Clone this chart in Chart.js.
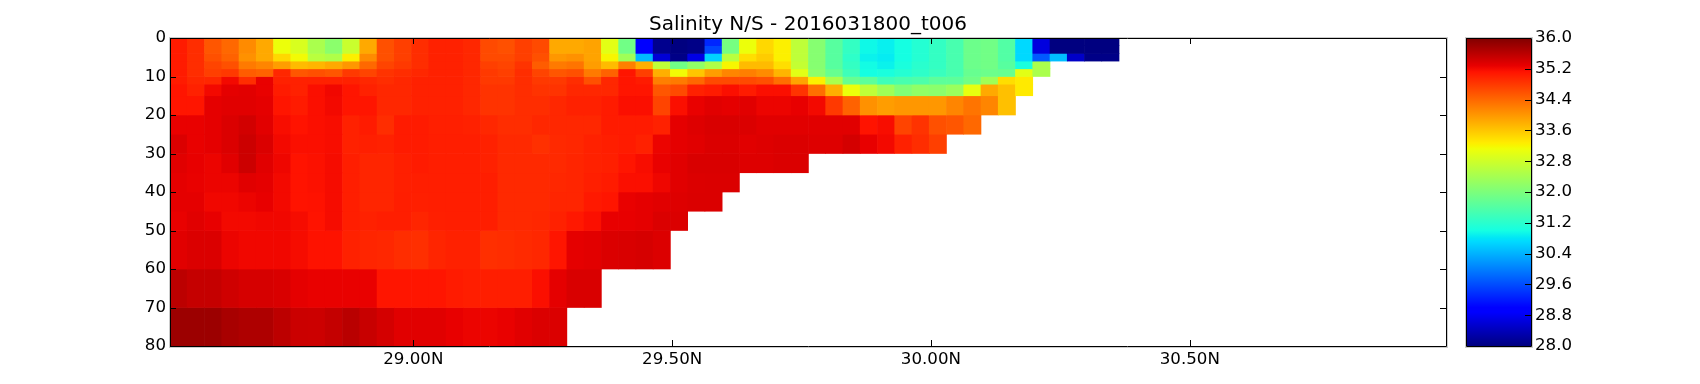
<!DOCTYPE html>
<html>
<head>
<meta charset="utf-8">
<script src="https://cdn.jsdelivr.net/npm/chart.js@4"></script>
<style>
    html, body { margin: 0; padding: 0; background: #fff; }
    #page { position: relative; width: 1700px; height: 384px; overflow: hidden; }
    canvas { position: absolute; top: 0; }
    #chart { left: 0; }
    #colorbar { left: 1460px; }
</style>
</head>
<body>
<div id="page">
    <canvas id="chart" width="1700" height="384"></canvas>
    <canvas id="colorbar" width="240" height="384"></canvas>
</div>
<script>
const titleText = 'Salinity N/S - 2016031800_t006';
const lonStart = 28.53;
const lonEnd = 30.995;
const lonStep = 1 / 30;
const lonTicks = [29, 29.5, 30, 30.5];
const depthTicks = [0, 10, 20, 30, 40, 50, 60, 70, 80];
const colorTicks = [28, 28.8, 29.6, 30.4, 31.2, 32, 32.8, 33.6, 34.4, 35.2, 36];
const depthEdges = [0, 2, 4, 6, 8, 10, 12, 15, 20, 25, 30, 35, 40, 45, 50, 60, 70, 80];

// one list per depth layer, west to east, ends where the sea bed starts
const sal0 = [35.05, 34.9, 34.55, 34.4, 34.1, 33.85, 33.1, 32.9, 32.45, 32.15, 32.75, 33.85, 34.6, 34.75, 34.9, 35.0, 35.0, 34.95, 34.65, 34.6, 34.75, 34.65, 33.85, 33.85, 33.9, 33.0, 31.9, 29.0, 28.1, 28.0, 28.05, 29.3, 31.95, 33.1, 33.45, 33.25, 32.65, 32.1, 31.65, 31.3, 30.95, 30.88, 31.0, 31.15, 31.3, 31.5, 31.85, 31.9, 31.6, 30.7, 28.65, 28.0, 28.0, 28.0, 28.0];
const sal2 = [35.05, 34.9, 34.55, 34.4, 34.1, 33.85, 33.1, 32.9, 32.45, 32.15, 32.75, 33.85, 34.6, 34.75, 34.9, 35.0, 35.0, 34.95, 34.65, 34.6, 34.75, 34.65, 33.85, 33.85, 33.9, 33.0, 31.9, 29.0, 28.1, 28.0, 28.05, 29.55, 31.95, 33.1, 33.45, 33.25, 32.65, 32.1, 31.65, 31.3, 30.95, 30.88, 31.0, 31.15, 31.3, 31.5, 31.85, 31.9, 31.6, 30.7, 28.65, 28.0, 28.0, 28.0, 28.0];
const sal4 = [35.05, 34.9, 34.6, 34.45, 34.05, 33.85, 33.45, 33.15, 32.6, 32.5, 33.25, 34.1, 34.6, 34.75, 34.9, 35.0, 35.0, 34.95, 34.65, 34.65, 34.75, 34.6, 34.0, 34.05, 33.9, 33.2, 32.35, 30.45, 28.6, 28.05, 28.7, 30.65, 32.6, 33.4, 33.55, 33.25, 32.65, 32.1, 31.65, 31.25, 30.9, 30.85, 31.0, 31.15, 31.3, 31.5, 31.85, 31.9, 31.6, 30.7, 29.7, 30.5, 28.5, 28.05, 28.05];
const sal6 = [35.05, 34.9, 34.7, 34.6, 34.25, 34.15, 33.95, 33.7, 33.75, 33.85, 34.0, 34.4, 34.7, 34.8, 34.9, 35.0, 35.0, 34.95, 34.75, 34.7, 34.85, 34.5, 34.25, 34.3, 33.95, 33.7, 34.2, 33.8, 32.65, 31.9, 32.2, 32.5, 33.2, 33.7, 33.7, 33.4, 32.7, 32.1, 31.65, 31.3, 30.98, 30.9, 31.05, 31.2, 31.3, 31.5, 31.85, 31.9, 31.65, 31.05, 32.45];
const sal8 = [35.05, 34.9, 34.75, 34.8, 34.5, 34.45, 34.95, 34.55, 34.6, 34.55, 34.8, 34.7, 34.85, 34.9, 34.95, 35.0, 35.0, 34.95, 34.8, 34.75, 34.9, 34.7, 34.55, 34.6, 34.25, 34.45, 35.1, 34.75, 33.8, 33.15, 33.6, 33.95, 34.15, 34.2, 34.1, 33.75, 33.0, 32.15, 31.8, 31.4, 31.0, 31.05, 31.15, 31.25, 31.35, 31.5, 31.8, 31.85, 31.8, 33.0, 32.45];
const sal10 = [35.05, 34.95, 34.95, 35.2, 34.9, 35.27, 35.0, 35.0, 35.0, 35.0, 35.0, 34.95, 34.9, 34.95, 35.0, 35.0, 35.0, 34.95, 34.8, 34.8, 34.9, 34.8, 34.8, 34.9, 34.6, 34.95, 35.1, 35.05, 34.2, 34.25, 34.4, 34.65, 34.65, 34.65, 34.6, 34.35, 33.9, 33.25, 32.45, 31.8, 31.7, 31.4, 31.5, 31.55, 31.7, 31.7, 31.9, 32.35, 33.4, 33.3];
const sal12 = [35.1, 35.0, 35.2, 35.3, 35.32, 35.27, 35.05, 35.0, 35.15, 35.22, 35.1, 35.0, 34.95, 34.95, 35.0, 35.0, 35.0, 34.95, 34.85, 34.85, 34.9, 34.85, 34.85, 34.95, 34.95, 34.95, 35.1, 35.1, 34.55, 34.65, 35.0, 35.05, 35.15, 35.05, 35.15, 35.15, 34.85, 34.35, 33.8, 33.1, 32.65, 32.35, 32.05, 32.2, 32.15, 32.3, 33.05, 33.85, 33.65, 33.3];
const sal15 = [35.1, 35.1, 35.3, 35.33, 35.33, 35.3, 35.1, 35.05, 35.15, 35.2, 35.1, 35.1, 34.95, 34.95, 35.0, 35.0, 35.0, 34.95, 34.85, 34.85, 34.9, 34.9, 34.95, 35.0, 35.0, 35.05, 35.15, 35.15, 34.7, 35.15, 35.27, 35.33, 35.3, 35.33, 35.25, 35.25, 35.28, 35.2, 34.8, 34.45, 34.05, 33.95, 34.0, 34.0, 34.0, 34.15, 34.3, 34.15, 33.65];
const sal20 = [35.27, 35.27, 35.3, 35.37, 35.43, 35.32, 35.17, 35.12, 35.15, 35.17, 35.0, 35.05, 34.9, 35.05, 35.05, 35.02, 35.02, 35.0, 34.95, 34.9, 34.9, 34.95, 34.95, 34.95, 34.95, 35.05, 35.05, 35.05, 35.0, 35.3, 35.35, 35.38, 35.38, 35.37, 35.33, 35.33, 35.33, 35.33, 35.33, 35.33, 35.12, 35.17, 34.7, 34.85, 34.6, 34.55, 34.4];
const sal25 = [35.37, 35.27, 35.3, 35.37, 35.47, 35.37, 35.2, 35.15, 35.15, 35.17, 35.0, 35.02, 35.0, 35.05, 35.05, 35.03, 35.03, 35.03, 35.0, 34.93, 34.93, 34.87, 34.93, 34.95, 35.0, 35.03, 35.05, 35.0, 35.25, 35.3, 35.33, 35.37, 35.37, 35.33, 35.35, 35.37, 35.37, 35.35, 35.35, 35.42, 35.28, 35.2, 35.0, 34.9, 34.75];
const sal30 = [35.33, 35.28, 35.25, 35.33, 35.47, 35.33, 35.23, 35.12, 35.14, 35.18, 35.03, 34.97, 34.97, 35.02, 35.05, 35.03, 35.03, 35.03, 35.0, 34.93, 34.93, 34.93, 34.93, 34.97, 35.0, 35.02, 35.1, 35.17, 35.27, 35.33, 35.38, 35.38, 35.38, 35.35, 35.35, 35.37, 35.37];
const sal35 = [35.3, 35.27, 35.25, 35.25, 35.33, 35.3, 35.2, 35.12, 35.14, 35.18, 35.03, 34.97, 34.97, 35.02, 35.03, 35.03, 35.03, 35.03, 35.03, 34.93, 34.93, 34.93, 34.95, 34.97, 35.02, 35.05, 35.15, 35.15, 35.23, 35.33, 35.36, 35.37, 35.37];
const sal40 = [35.3, 35.3, 35.22, 35.22, 35.25, 35.28, 35.2, 35.12, 35.13, 35.18, 35.03, 34.97, 34.97, 35.03, 35.02, 35.03, 35.03, 35.03, 35.03, 34.93, 34.93, 34.93, 34.97, 34.97, 35.07, 35.1, 35.27, 35.3, 35.33, 35.35, 35.37, 35.37];
const sal45 = [35.27, 35.33, 35.28, 35.2, 35.2, 35.22, 35.22, 35.18, 35.12, 35.18, 35.03, 35.0, 35.03, 35.03, 34.97, 35.02, 35.03, 35.03, 35.03, 34.93, 34.93, 34.95, 35.0, 35.08, 35.15, 35.28, 35.28, 35.3, 35.37, 35.37];
const sal50 = [35.33, 35.37, 35.37, 35.25, 35.22, 35.22, 35.22, 35.18, 35.13, 35.13, 35.0, 34.97, 34.95, 34.9, 34.88, 34.97, 35.0, 35.0, 34.88, 34.9, 34.92, 34.95, 35.1, 35.3, 35.32, 35.37, 35.38, 35.4, 35.36];
const sal60 = [35.58, 35.52, 35.52, 35.45, 35.4, 35.4, 35.38, 35.3, 35.27, 35.27, 35.27, 35.27, 35.1, 35.1, 35.1, 35.1, 35.05, 35.03, 35.03, 35.03, 35.03, 35.15, 35.3, 35.38, 35.38];
const sal70 = [35.8, 35.8, 35.8, 35.72, 35.68, 35.68, 35.58, 35.48, 35.47, 35.53, 35.6, 35.5, 35.42, 35.33, 35.33, 35.33, 35.28, 35.25, 35.25, 35.27, 35.33, 35.37, 35.37];
const salinityLayers = [sal0, sal2, sal4, sal6, sal8, sal10, sal12, sal15, sal20, sal25, sal30, sal35, sal40, sal45, sal50, sal60, sal70];

const colorMin = 28;
const colorMax = 36;
const jetRed = [[0, 0], [0.35, 0], [0.66, 1], [0.89, 1], [1, 0.5]];
const jetGreen = [[0, 0], [0.125, 0], [0.375, 1], [0.64, 1], [0.91, 0], [1, 0]];
const jetBlue = [[0, 0.5], [0.11, 1], [0.34, 1], [0.65, 0], [1, 0]];

const fontFamily = '"DejaVu Sans"';

function channel(segments, t) {
    for (let i = 1; i < segments.length; i++) {
        if (t <= segments[i][0]) {
            let a = segments[i - 1];
            let b = segments[i];
            return a[1] + (b[1] - a[1]) * (t - a[0]) / (b[0] - a[0]);
        }
    }
    return segments[segments.length - 1][1];
}

function jet(t) {
    let r = Math.round(channel(jetRed, t) * 255);
    let g = Math.round(channel(jetGreen, t) * 255);
    let b = Math.round(channel(jetBlue, t) * 255);
    return `rgb(${r},${g},${b})`;
}

function salinityColor(value) {
    return jet((value - colorMin) / (colorMax - colorMin));
}

// box round the plot and the short inward ticks, old matplotlib style
const frameTicks = {
    id: 'frameTicks',
    afterDatasetsDraw(chart, args, opts) {
        let ctx = chart.ctx;
        let area = chart.chartArea;
        let len = opts.length;
        let w = area.right - area.left;
        let h = area.bottom - area.top;
        ctx.save();
        ctx.lineWidth = 1;
        // the reference's frame has a soft grey edge on the outside
        ctx.strokeStyle = '#cccccc';
        ctx.strokeRect(area.left - 0.5, area.top - 0.5, w + 2, h + 2);
        ctx.strokeStyle = '#000';
        ctx.beginPath();
        ctx.rect(area.left + 0.5, area.top + 0.5, w, h);
        for (let t of opts.xTicks) {
            let x = Math.round(chart.scales.x.getPixelForValue(t)) + 0.5;
            ctx.moveTo(x, area.top);
            ctx.lineTo(x, area.top + len);
            ctx.moveTo(x, area.bottom);
            ctx.lineTo(x, area.bottom - len);
        }
        for (let t of opts.yTicks) {
            let y = Math.round(chart.scales.y.getPixelForValue(t)) + 0.5;
            if (opts.leftTicks) {
                ctx.moveTo(area.left, y);
                ctx.lineTo(area.left + len, y);
            }
            ctx.moveTo(area.right, y);
            ctx.lineTo(area.right - len, y);
        }
        ctx.stroke();
        ctx.restore();
    }
};

function layerDataset(values, layer) {
    return {
        data: values.map((v, i) => ({
            x: lonStart + (i + 0.5) * lonStep,
            y: [depthEdges[layer], depthEdges[layer + 1]]
        })),
        backgroundColor: values.map(salinityColor),
        borderWidth: 0,
        barPercentage: 1,
        categoryPercentage: 1,
        grouped: false
    };
}

new Chart(document.getElementById('chart'), {
    type: 'bar',
    data: { datasets: salinityLayers.map(layerDataset) },
    plugins: [frameTicks],
    options: {
        responsive: false,
        animation: false,
        layout: { padding: { top: 0, right: 254, bottom: 0, left: 0 } },
        plugins: {
            legend: { display: false },
            tooltip: { enabled: false },
            title: {
                display: true,
                text: titleText,
                color: '#000',
                fullSize: false,
                font: { family: fontFamily, size: 20, weight: 'normal' },
                padding: { top: 13, bottom: 1 }
            },
            frameTicks: { length: 6, xTicks: lonTicks, yTicks: depthTicks, leftTicks: true }
        },
        scales: {
            x: {
                type: 'linear',
                offset: false,
                min: lonStart,
                max: lonEnd,
                grid: { display: false, drawTicks: false },
                border: { display: false },
                afterBuildTicks: (scale) => { scale.ticks = lonTicks.map(v => ({ value: v })); },
                afterFit: (scale) => { scale.height = 38; },
                ticks: {
                    color: '#000',
                    padding: 4,
                    autoSkip: false,
                    maxRotation: 0,
                    font: { family: fontFamily, size: 16.67 },
                    callback: (v) => v.toFixed(2) + 'N'
                }
            },
            y: {
                type: 'linear',
                reverse: true,
                min: 0,
                max: 80,
                grid: { display: false, drawTicks: false },
                border: { display: false },
                afterBuildTicks: (scale) => { scale.ticks = depthTicks.map(v => ({ value: v })); },
                afterFit: (scale) => { scale.width = 170; },
                ticks: {
                    color: '#000',
                    padding: 4,
                    autoSkip: false,
                    font: { family: fontFamily, size: 16.67 }
                }
            }
        }
    }
});

function colorbarFill(context) {
    let area = context.chart.chartArea;
    if (!area) return '#000';
    let gradient = context.chart.ctx.createLinearGradient(0, area.bottom, 0, area.top);
    let stops = [...jetRed, ...jetGreen, ...jetBlue].map(s => s[0]);
    for (let t of stops) gradient.addColorStop(t, jet(t));
    return gradient;
}

new Chart(document.getElementById('colorbar'), {
    type: 'bar',
    data: {
        labels: [''],
        datasets: [{
            data: [[colorMin, colorMax]],
            backgroundColor: colorbarFill,
            borderWidth: 0,
            barPercentage: 1,
            categoryPercentage: 1
        }]
    },
    plugins: [frameTicks],
    options: {
        responsive: false,
        animation: false,
        layout: { padding: { top: 38, right: 0, bottom: 38, left: 6 } },
        plugins: {
            legend: { display: false },
            tooltip: { enabled: false },
            frameTicks: { length: 6, xTicks: [], yTicks: colorTicks, leftTicks: false }
        },
        scales: {
            x: { display: false },
            y: {
                position: 'right',
                min: colorMin,
                max: colorMax,
                grid: { display: false, drawTicks: false },
                border: { display: false },
                afterBuildTicks: (scale) => { scale.ticks = colorTicks.map(v => ({ value: v })); },
                afterFit: (scale) => { scale.width = 169; },
                ticks: {
                    color: '#000',
                    padding: 4,
                    autoSkip: false,
                    font: { family: fontFamily, size: 16.67 },
                    callback: (v) => v.toFixed(1)
                }
            }
        }
    }
});
</script>
</body>
</html>
